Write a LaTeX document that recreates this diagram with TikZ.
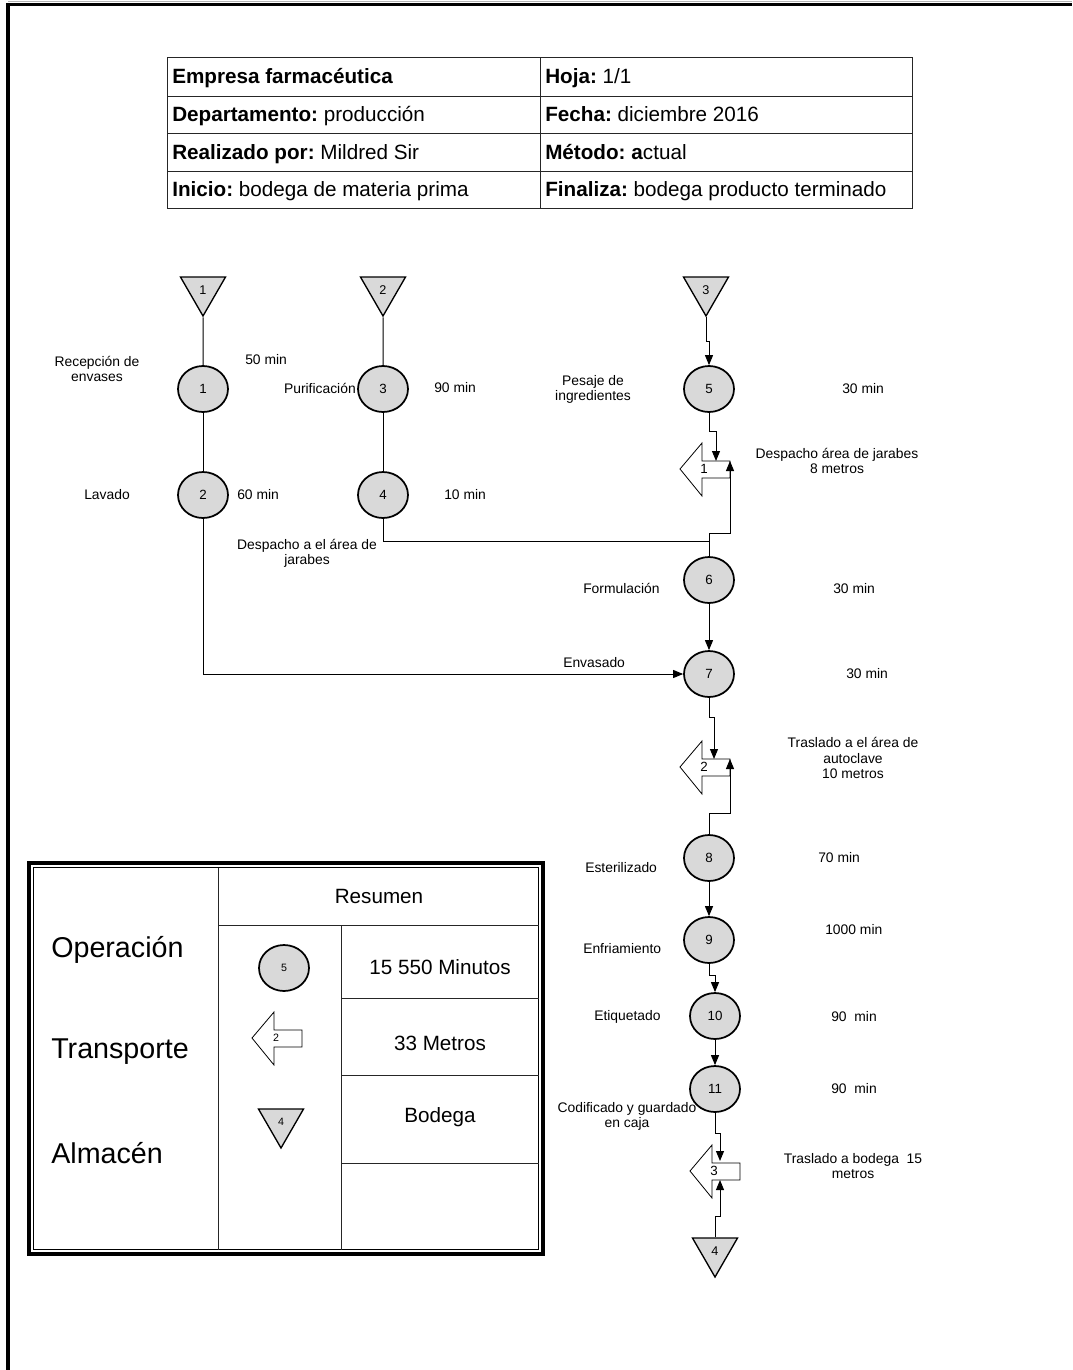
\documentclass[tikz,border=0pt]{standalone}
\usepackage{fontspec}
\setmainfont{Liberation Sans}
\usetikzlibrary{shapes.geometric,arrows.meta}
\frenchspacing

\begin{document}
\begin{tikzpicture}[x=0.75pt,y=-0.75pt,
  op/.style={ellipse,draw,line width=1.3pt,fill=black!15,minimum width=37.5pt,
    minimum height=34.5pt,inner sep=0pt,font=\fontsize{10}{12}\selectfont},
  store/.style={regular polygon,regular polygon sides=3,shape border rotate=180,
    draw,line width=1pt,fill=black!15,minimum size=39pt,inner sep=0pt,
    font=\fontsize{9.5}{11}\selectfont},
  lbl/.style={inner sep=0pt,font=\fontsize{10.4}{11.3}\selectfont,align=center},
  hdr/.style={inner sep=0pt,anchor=base west,font=\fontsize{15.5}{18}\selectfont},
  big/.style={inner sep=0pt,anchor=west,font=\fontsize{21.5}{25}\selectfont},
  sumtxt/.style={inner sep=0pt,font=\fontsize{15.5}{18}\selectfont},
  grid/.style={line width=0.75pt,black!85},
  link/.style={line width=0.75pt},
  arr/.style={link,-{Triangle[length=7.5pt,width=6pt]}},
  tlabel/.style={font=\fontsize{10}{12}\selectfont},
  transport/.pic={
    \draw[line width=0.6pt,fill=white] (0,0) -- (22,-26) -- (22,-8) -- (50,-8)
      -- (50,9) -- (22,9) -- (22,27) -- cycle;
    \node[inner sep=0pt,tlabel] (-lbl) at (24,0) {#1};
  }
]
\useasboundingbox (0,0) rectangle (1072,1370);

% page frame (top and left edges only)
\draw[black!30,line width=0.8pt] (8,1.2) -- (1072,1.2);
\draw[line width=2.3pt] (8,1370) -- (8,4.5) -- (1072,4.5);

% ---------------- header table ----------------
\draw[grid] (167,58) rectangle (912,208);
\foreach \yy in {96,133,171} \draw[grid] (167,\yy) -- (912,\yy);
\draw[grid] (540,58) -- (540,208);
\node[hdr] (h1) at (172,84)    {\textbf{Empresa farmacéutica}};
\node[hdr] (h2) at (545,84)    {\textbf{Hoja:} 1/1};
\node[hdr] (h3) at (172,121.5) {\textbf{Departamento:} producción};
\node[hdr] (h4) at (545,121.5) {\textbf{Fecha:} diciembre 2016};
\node[hdr] (h5) at (172,159)   {\textbf{Realizado por:} Mildred Sir};
\node[hdr] (h6) at (545,159)   {\textbf{Método: a}ctual};
\node[hdr] (h7) at (172,196.5) {\textbf{Inicio:} bodega de materia prima};
\node[hdr] (h8) at (545,196.5) {\textbf{Finaliza:} bodega producto terminado};

% ---------------- process symbols ----------------
\node[store] (s1) at (203,290) {1};
\node[store] (s2) at (383,290) {2};
\node[store] (s3) at (706,290) {3};
\node[store] (s4) at (715,1251) {4};

\node[op] (c1)  at (203,389)  {1};
\node[op] (c2)  at (203,495)  {2};
\node[op] (c3)  at (383,389)  {3};
\node[op] (c4)  at (383,495)  {4};
\node[op] (c5)  at (709,389)  {5};
\node[op] (c6)  at (709,580)  {6};
\node[op] (c7)  at (709,674)  {7};
\node[op] (c8)  at (709,858)  {8};
\node[op] (c9)  at (709,940)  {9};
\node[op] (c10) at (715,1016) {10};
\node[op] (c11) at (715,1089) {11};

\pic (tr1) at (680,469)  {transport=1};
\pic (tr2) at (680,767)  {transport=2};
\pic (tr3) at (690,1171) {transport=3};

% arrow entry points on the transport symbols
\coordinate (tr1in)  at (716,461);
\coordinate (tr1out) at (730,461);
\coordinate (tr2in)  at (714,759);
\coordinate (tr2out) at (730,759);
\coordinate (tr3in)  at (720,1161);
\coordinate (tr3out) at (720,1180);
\coordinate (j1)     at (709,541);

% ---------------- connectors ----------------
\draw[link] (s1) -- (c1);
\draw[link] (c1) -- (c2);
\draw[link] (s2) -- (c3);
\draw[link] (c3) -- (c4);
\draw[arr] (s3.corner 1) -- ++(0,24) -| (c5.north);
\draw[arr] (c5.south) -- ++(0,19) -| (tr1in);
\draw[arr] (c6.north) -- ++(0,-23) -| (tr1out);
\draw[link] (c4.south) |- (j1);
\draw[arr] (c6) -- (c7);
\draw[arr] (c2.south) |- (c7.west);
\draw[arr] (c7.south) -- ++(0,20) -| (tr2in);
\draw[arr] (c8.north) -- ++(0,-21) -| (tr2out);
\draw[arr] (c8) -- (c9);
\draw[arr] (c9.south) -- ++(0,12) -| (c10.north);
\draw[arr] (c10) -- (c11);
\draw[arr] (c11.south) -- ++(0,21) -| (tr3in);
\draw[arr] (s4.side 2) -- ++(0,-21) -| (tr3out);

% ---------------- activity labels and times ----------------
\node[lbl] (lrec) at (97,369) {Recepción de\\envases};
\node[lbl,anchor=west] (m50) at (245,360) {50 min};
\node[lbl,anchor=east] (lpur) at (356,388) {Purificación};
\node[lbl,anchor=west] (m90a) at (434,388) {90 min};
\node[lbl,anchor=west] (llav) at (84,495) {Lavado};
\node[lbl,anchor=west] (m60) at (237,495) {60 min};
\node[lbl,anchor=west] (m10) at (444,495) {10 min};
\node[lbl] (ldes) at (307,553) {Despacho a el área de\\jarabes};
\node[lbl] (lpes) at (593,389) {Pesaje de\\ingredientes};
\node[lbl,anchor=west] (m30a) at (842,389) {30 min};
\node[lbl] (ldj) at (837,461) {Despacho área de jarabes\\8 metros};
\node[lbl,anchor=west] (lfor) at (583,588) {Formulación};
\node[lbl,anchor=west] (m30b) at (833,589) {30 min};
\node[lbl,anchor=west] (lenv) at (563,663) {Envasado};
\node[lbl,anchor=west] (m30c) at (846,674) {30 min};
\node[lbl] (ltra) at (853,758) {Traslado a el área de\\autoclave\\10 metros};
\node[lbl,anchor=west] (lest) at (585,868) {Esterilizado};
\node[lbl,anchor=west] (m70) at (818,858) {70 min};
\node[lbl,anchor=west] (lenf) at (583,949) {Enfriamiento};
\node[lbl,anchor=west] (m1000) at (825,930) {1000 min};
\node[lbl,anchor=west] (leti) at (594,1017) {Etiquetado};
\node[lbl,anchor=west] (m90b) at (831,1017) {90\ \ min};
\node[lbl,anchor=west] (m90c) at (831,1089) {90\ \ min};
\node[lbl] (lcod) at (627,1116) {Codificado y guardado\\en caja};
\node[lbl] (ltb) at (853,1166) {Traslado a bodega\ \ 15\\metros};

% ---------------- summary box ----------------
\draw[line width=2.6pt] (29,863) rectangle (543,1254);
\draw[line width=0.6pt] (33.5,867.5) rectangle (538.5,1249.5);
\draw[grid] (218,867.5) -- (218,1249.5);
\draw[grid] (218,925) -- (538.5,925);
\draw[grid] (341,925) -- (341,1249.5);
\foreach \yy in {998,1075,1163} \draw[grid] (341,\yy) -- (538.5,\yy);

\node[sumtxt] (res) at (379,896) {Resumen};
\node[big] (kop) at (51,950)  {Operación};
\node[big] (ktr) at (51,1052) {Transporte};
\node[big] (kal) at (51,1153) {Almacén};

\node[op,font=\fontsize{8}{9}\selectfont] (kc) at (284,968) {5};
\pic[tlabel/.style={font=\fontsize{8}{9}\selectfont}] (kt) at (252,1038) {transport=2};
\node[store,font=\fontsize{8}{9}\selectfont] (ks) at (281,1122) {4};

\node[sumtxt] (vmin) at (440,967)  {15 550 Minutos};
\node[sumtxt] (vmet) at (440,1043) {33 Metros};
\node[sumtxt] (vbod) at (440,1117) {Bodega};
\end{tikzpicture}
\end{document}
